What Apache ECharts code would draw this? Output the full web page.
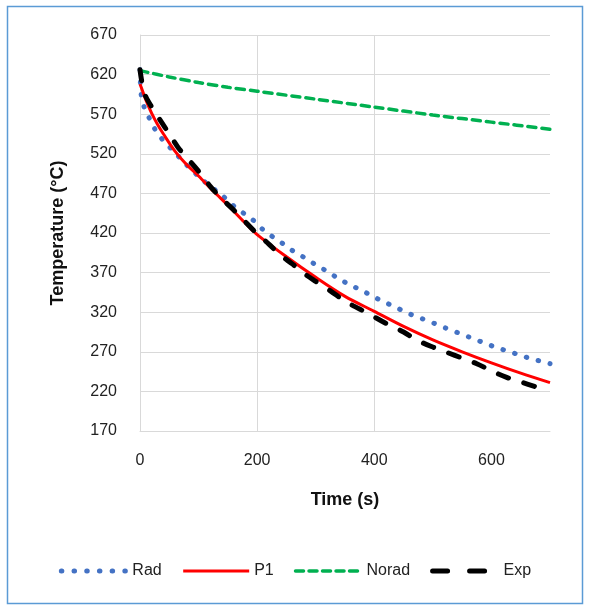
<!DOCTYPE html>
<html>
<head>
<meta charset="utf-8">
<script src="https://cdn.jsdelivr.net/npm/echarts@6/dist/echarts.min.js"></script>
<style>html,body{margin:0;padding:0;background:#fff}#c{width:590px;height:610px}</style>
</head>
<body>
<div id="c"></div>
<script>
const xTicks = [0, 200, 400, 600];
const yTicks = [170, 220, 270, 320, 370, 420, 470, 520, 570, 620, 670];
const seriesNames = ['Rad', 'P1', 'Norad', 'Exp'];

const radData = [[0,626],[2,595],[8,577],[18,562],[28,548],[43,534],[58,523],[74,510],[91,498],[105,488],[122,478],[141,467],[157,456],[175,446],[192,437],[209,425],[227,415],[245,406],[264,396],[283,388],[302,379],[321,371],[340,362],[360,354],[380,347],[400,339],[420,332],[440,325],[460,318],[481,312],[502,306],[522,300],[543,294],[564,288],[585,282],[606,276],[627,271],[648,266],[669,261],[691,257],[700,255]];
const p1Data = [[0,608],[5,598],[10,588],[20,571],[30,557],[40,545],[60,523],[80,506],[100,492],[125,473],[150,455],[175,436],[200,418],[250,390],[300,364],[350,340],[400,321],[450,302],[500,285],[550,270],[600,256],[650,243],[700,231]];
const noradData = [[0,625],[50,617],[100,610],[150,604],[200,599],[300,589],[400,579],[500,569],[600,560],[700,551]];
const expData = [[0,626],[5,603],[10,592],[20,579],[35,562],[50,545],[65,528],[80,515],[100,498],[120,479],[140,463],[160,449],[180,434],[200,419],[220,406],[240,392],[260,381],[280,369],[300,359],[325,347],[350,334],[375,324],[400,314],[425,304],[450,295],[475,284],[500,276],[525,269],[550,262],[575,255],[600,246],[625,238],[650,232],[675,226],[695,221]];

const styles = {
  Rad:   {color: '#4472C4', width: 5,   type: [0.5, 11.8], cap: 'round'},
  P1:    {color: '#FF0000', width: 3,   type: 'solid', cap: 'butt'},
  Norad: {color: '#00B050', width: 3.5, type: [8, 6], cap: 'round'},
  Exp:   {color: '#000000', width: 5,   type: [11, 16], cap: 'round'}
};
const legendStyles = {
  Rad:   {width: 5, type: [0.5, 12.2], cap: 'round'},
  P1:    {width: 3, type: 'solid', cap: 'butt'},
  Norad: {width: 3.5, type: [8, 5.5], cap: 'round'},
  Exp:   {width: 5, type: [15, 22], cap: 'round'}
};
const dataByName = {Rad: radData, P1: p1Data, Norad: noradData, Exp: expData};

const font = 'Liberation Sans, Arial, sans-serif';
const chart = echarts.init(document.getElementById('c'), null, {renderer: 'canvas'});
chart.setOption({
  animation: false,
  backgroundColor: '#fff',
  graphic: [{type: 'rect', shape: {x: 7.5, y: 6.5, width: 575, height: 597}, style: {fill: 'none', stroke: '#5B9BD5', lineWidth: 1.5}, silent: true}],
  grid: {left: 140, right: 40, top: 35, bottom: 179, containLabel: false},
  legend: {
    bottom: 26, left: 'center', itemWidth: 66, itemHeight: 14, itemGap: 20,
    itemStyle: {opacity: 0},
    textStyle: {fontFamily: font, fontSize: 16, color: '#222'},
    data: seriesNames.map(n => ({name: n, lineStyle: legendStyles[n]}))
  },
  xAxis: {
    type: 'value', min: 0, max: 700,
    name: 'Time (s)', nameLocation: 'middle', nameGap: 60,
    nameTextStyle: {fontFamily: font, fontSize: 18, fontWeight: 'bold', color: '#111'},
    axisLine: {show: true, lineStyle: {color: '#d9d9d9', width: 1}},
    axisTick: {show: false, customValues: xTicks},
    axisLabel: {customValues: xTicks, margin: 22, fontFamily: font, fontSize: 16, color: '#222'},
    splitLine: {show: true, showMaxLine: false, lineStyle: {color: '#d9d9d9', width: 1}}
  },
  yAxis: {
    type: 'value', min: 170, max: 670,
    name: 'Temperature (°C)', nameLocation: 'middle', nameGap: 73, nameRotate: 90,
    nameTextStyle: {fontFamily: font, fontSize: 18, fontWeight: 'bold', color: '#111'},
    axisLine: {show: true, lineStyle: {color: '#d9d9d9', width: 1}},
    axisTick: {show: false, customValues: yTicks},
    axisLabel: {customValues: yTicks, margin: 23, fontFamily: font, fontSize: 16, color: '#222'},
    splitLine: {show: true, lineStyle: {color: '#d9d9d9', width: 1}}
  },
  series: seriesNames.map(n => ({
    name: n, type: 'line', data: dataByName[n], symbol: 'none', smooth: 0.3, clip: true,
    lineStyle: styles[n], itemStyle: {color: styles[n].color}
  }))
});
</script>
</body>
</html>
